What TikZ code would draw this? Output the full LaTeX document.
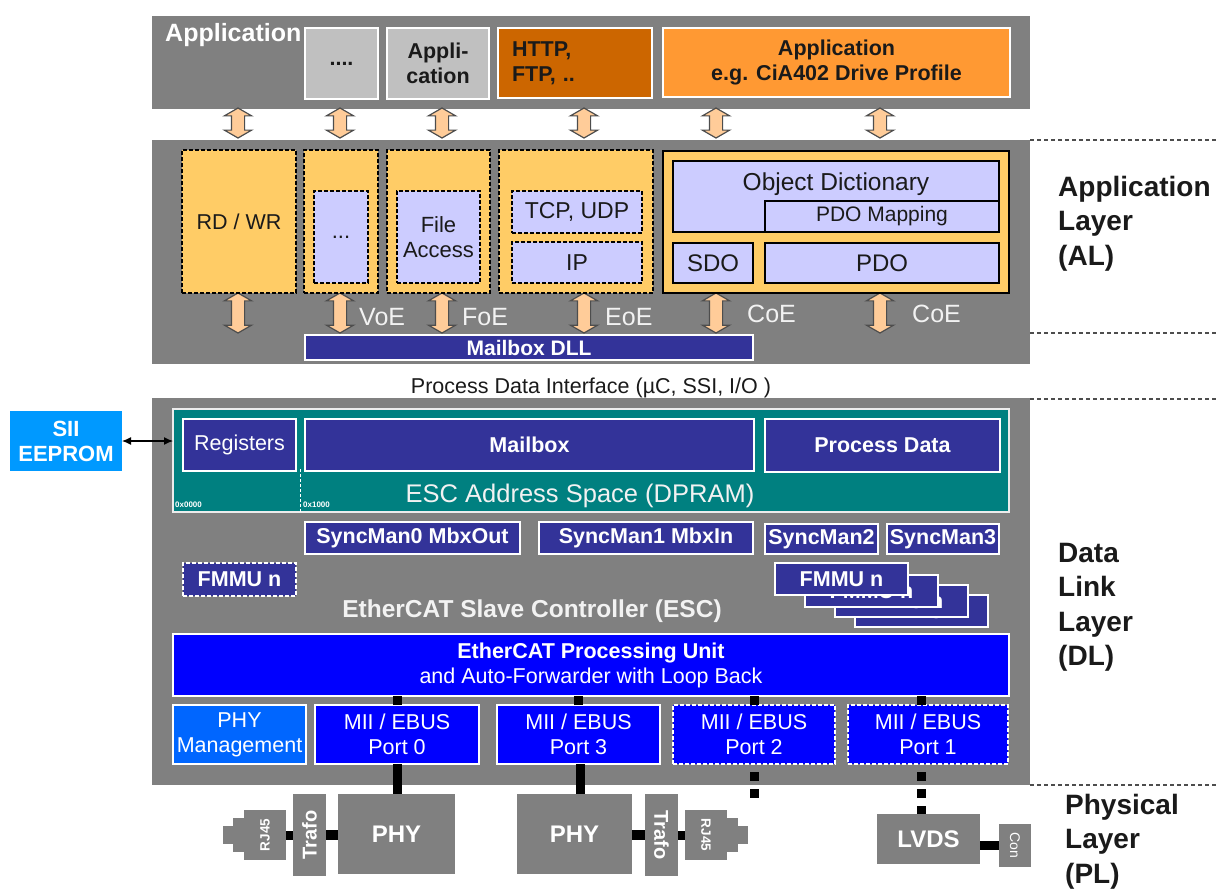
\documentclass[tikz,border=0pt]{standalone}
\usepackage{fontspec}
\setmainfont{Liberation Sans}
\usetikzlibrary{arrows.meta,shapes.arrows}

\newcommand\fsz[2]{\fontsize{#1}{#2}\selectfont}

\definecolor{panelgray}{HTML}{808080}
\definecolor{boxgray}{HTML}{C0C0C0}
\definecolor{rust}{HTML}{CC6600}
\definecolor{orng}{HTML}{FF9933}
\definecolor{sand}{HTML}{FFCC66}
\definecolor{lav}{HTML}{CCCCFF}
\definecolor{navy}{HTML}{333399}
\definecolor{dpram}{HTML}{008080}
\definecolor{ecblue}{HTML}{0000FF}
\definecolor{mgmtblue}{HTML}{0066FF}
\definecolor{siiblue}{HTML}{0099FF}
\definecolor{peach}{HTML}{FFCC99}
\definecolor{rimgray}{HTML}{4D4D4D}
\definecolor{ink}{HTML}{1A1A1A}
\definecolor{offwhite}{HTML}{F2F2F2}

\begin{document}
\begin{tikzpicture}[x=1pt, y=-1pt,
	blk/.style={anchor=north west, inner sep=0pt, outer sep=0pt, align=center, font=\fsz{21.5}{25}},
	sz/.style 2 args={minimum width=#1pt, minimum height=#2pt},
	panel/.style={blk, fill=panelgray},
	appbox/.style={blk, draw=white, line width=1.2pt, text=ink, font=\fsz{21.5}{25}\bfseries},
	sandbox/.style={blk, fill=sand, draw=black, line width=1.2pt, dash pattern=on 4pt off 2pt, text=ink},
	coebox/.style={blk, fill=sand, draw=black, line width=1.4pt},
	lavbox/.style={blk, fill=lav, draw=black, line width=1.2pt, dash pattern=on 4pt off 2pt, text=ink, font=\fsz{22}{25}},
	odbox/.style={blk, fill=lav, draw=black, line width=1.2pt, text=ink, font=\fsz{22}{25}},
	navybox/.style={blk, fill=navy, draw=white, line width=1.2pt, text=white, font=\fsz{21.5}{25}\bfseries},
	dprambox/.style={blk, fill=dpram, draw=white!85!gray, line width=1.2pt},
	bluebox/.style={blk, fill=ecblue, draw=white, line width=1.2pt, text=white},
	siibox/.style={blk, fill=siiblue, text=white, font=\fsz{22}{25}\bfseries},
	phybox/.style={blk, fill=panelgray, text=white, font=\fsz{24}{28}\bfseries},
	jack/.style={phybox, anchor=center, sz={50}{42}, font=\fsz{13.5}{15}\bfseries},
	proto/.style={anchor=base west, inner sep=0pt, text=offwhite, font=\fsz{25}{30}},
	addr/.style={anchor=base west, inner sep=0pt, text=white, font=\fsz{8}{9}\bfseries},
	layerlbl/.style={anchor=north west, inner sep=0pt, align=left, text=ink, font=\fsz{28}{34.5}\bfseries},
	layerline/.style={rimgray, line width=1.2pt, dash pattern=on 4pt off 3pt},
	dblarrow/.style={double arrow, rotate=90, anchor=center, fill=peach, draw=rimgray, line width=1.2pt, inner xsep=0pt, inner ysep=6pt, double arrow head extend=7pt, double arrow tip angle=120},
	bus/.style={black, line width=9pt},
	dotbus/.style={bus, dash pattern=on 9pt off 8pt, dash phase=9pt},
	siilink/.style={{Latex[length=9pt,width=8pt]}-{Latex[length=9pt,width=8pt]}, line width=1.2pt},
]

	\useasboundingbox (0,0) rectangle (1216,891);

	% ---- panels

	\node[panel, sz={878}{93}]  (appl) at (152,16)  {};
	\node[panel, sz={878}{224}] (al)   at (152,140) {};
	\node[panel, sz={878}{387}] (dl)   at (152,398) {};

	% ---- application row

	\node[anchor=base west, inner sep=0pt, text=white, font=\fsz{25}{28}\bfseries] (apptitle) at (165,42) {Application};
	\node[appbox, fill=boxgray, sz={73}{71}]  (appdots) at (305,28) {....};
	\node[appbox, fill=boxgray, sz={102}{71}] (appgen)  at (387,28) {Appli-\\cation};
	\node[appbox, fill=rust, sz={154}{70}, align=left, text width=126pt, inner xsep=14pt] (apphttp) at (498,28) {HTTP,\\FTP, ..};
	\node[appbox, fill=orng, sz={347}{69}] (appcia) at (663,28) {Application\\e.g. CiA402 Drive Profile};

	% ---- exchange arrows

	\foreach \x [count=\i] in {238,340,442,584,716,880} {
		\node[dblarrow, minimum height=30pt] (up\i) at (\x,123) {};
		\node[dblarrow, minimum height=40pt] (dn\i) at (\x,313) {};
	}

	% ---- application layer

	\node[sandbox, sz={114}{143}] (rdwr)  at (182,150) {RD / WR};
	\node[sandbox, sz={74}{143}]  (voe)   at (304,150) {};
	\node[lavbox, sz={54}{92}]    (voein) at (314,191) {...};
	\node[sandbox, sz={103}{143}] (foe)   at (387,150) {};
	\node[lavbox, sz={83}{92}]    (foein) at (397,191) {File\\Access};
	\node[sandbox, sz={154}{143}] (eoe)   at (499,150) {};
	\node[lavbox, sz={130}{42}, font=\fsz{23}{26}] (tcp) at (512,191) {TCP, UDP};
	\node[lavbox, sz={130}{41}, font=\fsz{23}{26}] (ip)  at (512,242) {IP};

	\node[coebox, sz={346}{142}] (coe)    at (663,151) {};
	\node[odbox, sz={326}{71}]   (od)     at (673,161) {};
	\node[anchor=base, inner sep=0pt, text=ink, font=\fsz{24.5}{28}] (odlbl) at (836,190) {Object Dictionary};
	\node[odbox, sz={234}{31}, font=\fsz{21}{25}] (pdomap) at (765,201) {PDO Mapping};
	\node[odbox, sz={80}{40}, font=\fsz{24}{28}]  (sdo)    at (673,243) {SDO};
	\node[odbox, sz={234}{40}, font=\fsz{24}{28}] (pdo)    at (765,243) {PDO};

	% ---- mailbox protocols

	\node[proto] (voel)  at (359,325) {VoE};
	\node[proto] (foel)  at (462,325) {FoE};
	\node[proto] (eoel)  at (605,325) {EoE};
	\node[proto] (coel1) at (747,322) {CoE};
	\node[proto] (coel2) at (912,322) {CoE};

	\node[navybox, sz={448}{25}, font=\fsz{21}{25}\bfseries] (mbxdll) at (305,335) {Mailbox DLL};

	\node[anchor=base, inner sep=0pt, text=ink, font=\fsz{21.5}{25}] (pdi) at (591,393) {Process Data Interface (µC, SSI, I/O )};

	% ---- address space

	\node[dprambox, sz={836}{103}] (dpram) at (173,409) {};
	\node[navybox, sz={113}{52}, font=\fsz{21.5}{25}] (regs) at (183,419) {Registers};
	\node[navybox, sz={449}{52}] (mbx) at (305,419) {Mailbox};
	\node[navybox, sz={235}{53}] (pd)  at (765,419) {Process Data};
	\draw[white, line width=1pt, dash pattern=on 3pt off 2pt] (300,469) -- (300,512);
	\node[addr] (adr0) at (175,507) {0x0000};
	\node[addr] (adr1) at (303,507) {0x1000};
	\node[anchor=base, inner sep=0pt, text=offwhite, font=\fsz{25.5}{30}] (dpramlbl) at (580,502) {ESC Address Space (DPRAM)};

	\node[siibox, sz={112}{60}] (sii) at (10,411) {SII\\EEPROM};
	\draw[siilink] (sii) -- (sii -| dpram.west);

	% ---- sync managers and fmmus

	\node[navybox, sz={215}{32}] (sm0) at (305,522) {SyncMan0 MbxOut};
	\node[navybox, sz={214}{32}] (sm1) at (539,522) {SyncMan1 MbxIn};
	\node[navybox, sz={113}{30}] (sm2) at (765,524) {SyncMan2};
	\node[navybox, sz={112}{30}] (sm3) at (887,524) {SyncMan3};

	\node[navybox, sz={113}{33}, dash pattern=on 4pt off 2pt] (fmmu) at (183,563) {FMMU n};
	\foreach \dx/\dy [count=\i] in {80/32,60/22,30/12,0/0}
		\node[navybox, sz={133}{32}] (fmmu\i) at ({775+\dx},{563+\dy}) {FMMU n};

	\node[anchor=base, inner sep=0pt, text=offwhite, font=\fsz{24.5}{30}\bfseries] (esclbl) at (532,617) {EtherCAT Slave Controller (ESC)};

	% ---- processing unit and ports

	\node[bluebox, sz={836}{62}] (epu) at (173,634) {\textbf{EtherCAT Processing Unit}\\and Auto-Forwarder with Loop Back};
	\node[bluebox, fill=mgmtblue, sz={133}{59}] (phymgmt) at (173,705) {PHY\\Management};
	\node[bluebox, sz={164}{59}] (port0) at (315,705) {MII / EBUS\\Port 0};
	\node[bluebox, sz={163}{59}] (port3) at (497,705) {MII / EBUS\\Port 3};
	\node[bluebox, sz={162}{59}, dash pattern=on 4pt off 2pt] (port2) at (673,705) {MII / EBUS\\Port 2};
	\node[bluebox, sz={160}{59}, dash pattern=on 4pt off 2pt] (port1) at (848,705) {MII / EBUS\\Port 1};

	% ---- physical layer

	\node[phybox, sz={117}{80}] (phy0) at (338,794) {PHY};
	\node[phybox, sz={115}{80}] (phy3) at (517,794) {PHY};
	\node[phybox, sz={103}{50}] (lvds) at (877,814) {LVDS};
	\node[phybox, rotate=90,  anchor=center, sz={82}{33}, font=\fsz{20}{24}\bfseries] (trafo0) at (309.5,835) {Trafo};
	\node[phybox, rotate=-90, anchor=center, sz={82}{33}, font=\fsz{20}{24}\bfseries] (trafo3) at (661.5,835) {Trafo};
	\node[jack, rotate=90]  (rj0) at (265,835) {RJ45};
	\node[jack, rotate=-90] (rj3) at (706,835) {RJ45};
	\fill[panelgray] ([shift={(-32,-17)}]rj0.center) rectangle ++(12,34);
	\fill[panelgray] ([shift={(-42,-9)}]rj0.center)  rectangle ++(11,18);
	\fill[panelgray] ([shift={(20,-17)}]rj3.center)  rectangle ++(12,34);
	\fill[panelgray] ([shift={(31,-9)}]rj3.center)   rectangle ++(11,18);
	\node[phybox, rotate=-90, anchor=center, sz={43}{32}, font=\fsz{14}{16}] (con) at (1015,845.5) {Con};

	% ---- connections

	\foreach \p in {port0,port3,port2} { \draw[bus] (\p.north) -- (\p.north |- epu.south); }
	\draw[bus] ([xshift=-7pt]port1.north) -- ([xshift=-7pt]port1.north |- epu.south);
	\draw[bus] (port0.south) -- (port0.south |- phy0.north);
	\draw[bus] ([xshift=2pt]port3.south) -- ([xshift=2pt]port3.south |- phy3.north);
	\coordinate (p2end) at (754,798);
	\draw[dotbus] (port2.south) -- (p2end);
	\draw[dotbus] ([xshift=-7pt]port1.south) -- ([xshift=-7pt]port1.south |- lvds.north);
	\draw[bus] (rj0) -- (trafo0);
	\draw[bus, line width=10pt] (trafo0) -- (trafo0 -| phy0.west);
	\draw[bus, line width=10pt] (phy3.east |- trafo3) -- (trafo3);
	\draw[bus] (trafo3) -- (rj3);
	\draw[bus] (lvds.east |- con) -- (con);

	% ---- layers

	\foreach \y in {140,333,399,785} { \draw[layerline] (1030,\y) -- (1216,\y); }
	\node[layerlbl] (allbl) at (1058,176) {Application\\Layer\\(AL)};
	\node[layerlbl] (dllbl) at (1058,543) {Data\\Link\\Layer\\(DL)};
	\node[layerlbl] (pllbl) at (1065,794) {Physical\\Layer\\(PL)};

\end{tikzpicture}
\end{document}
